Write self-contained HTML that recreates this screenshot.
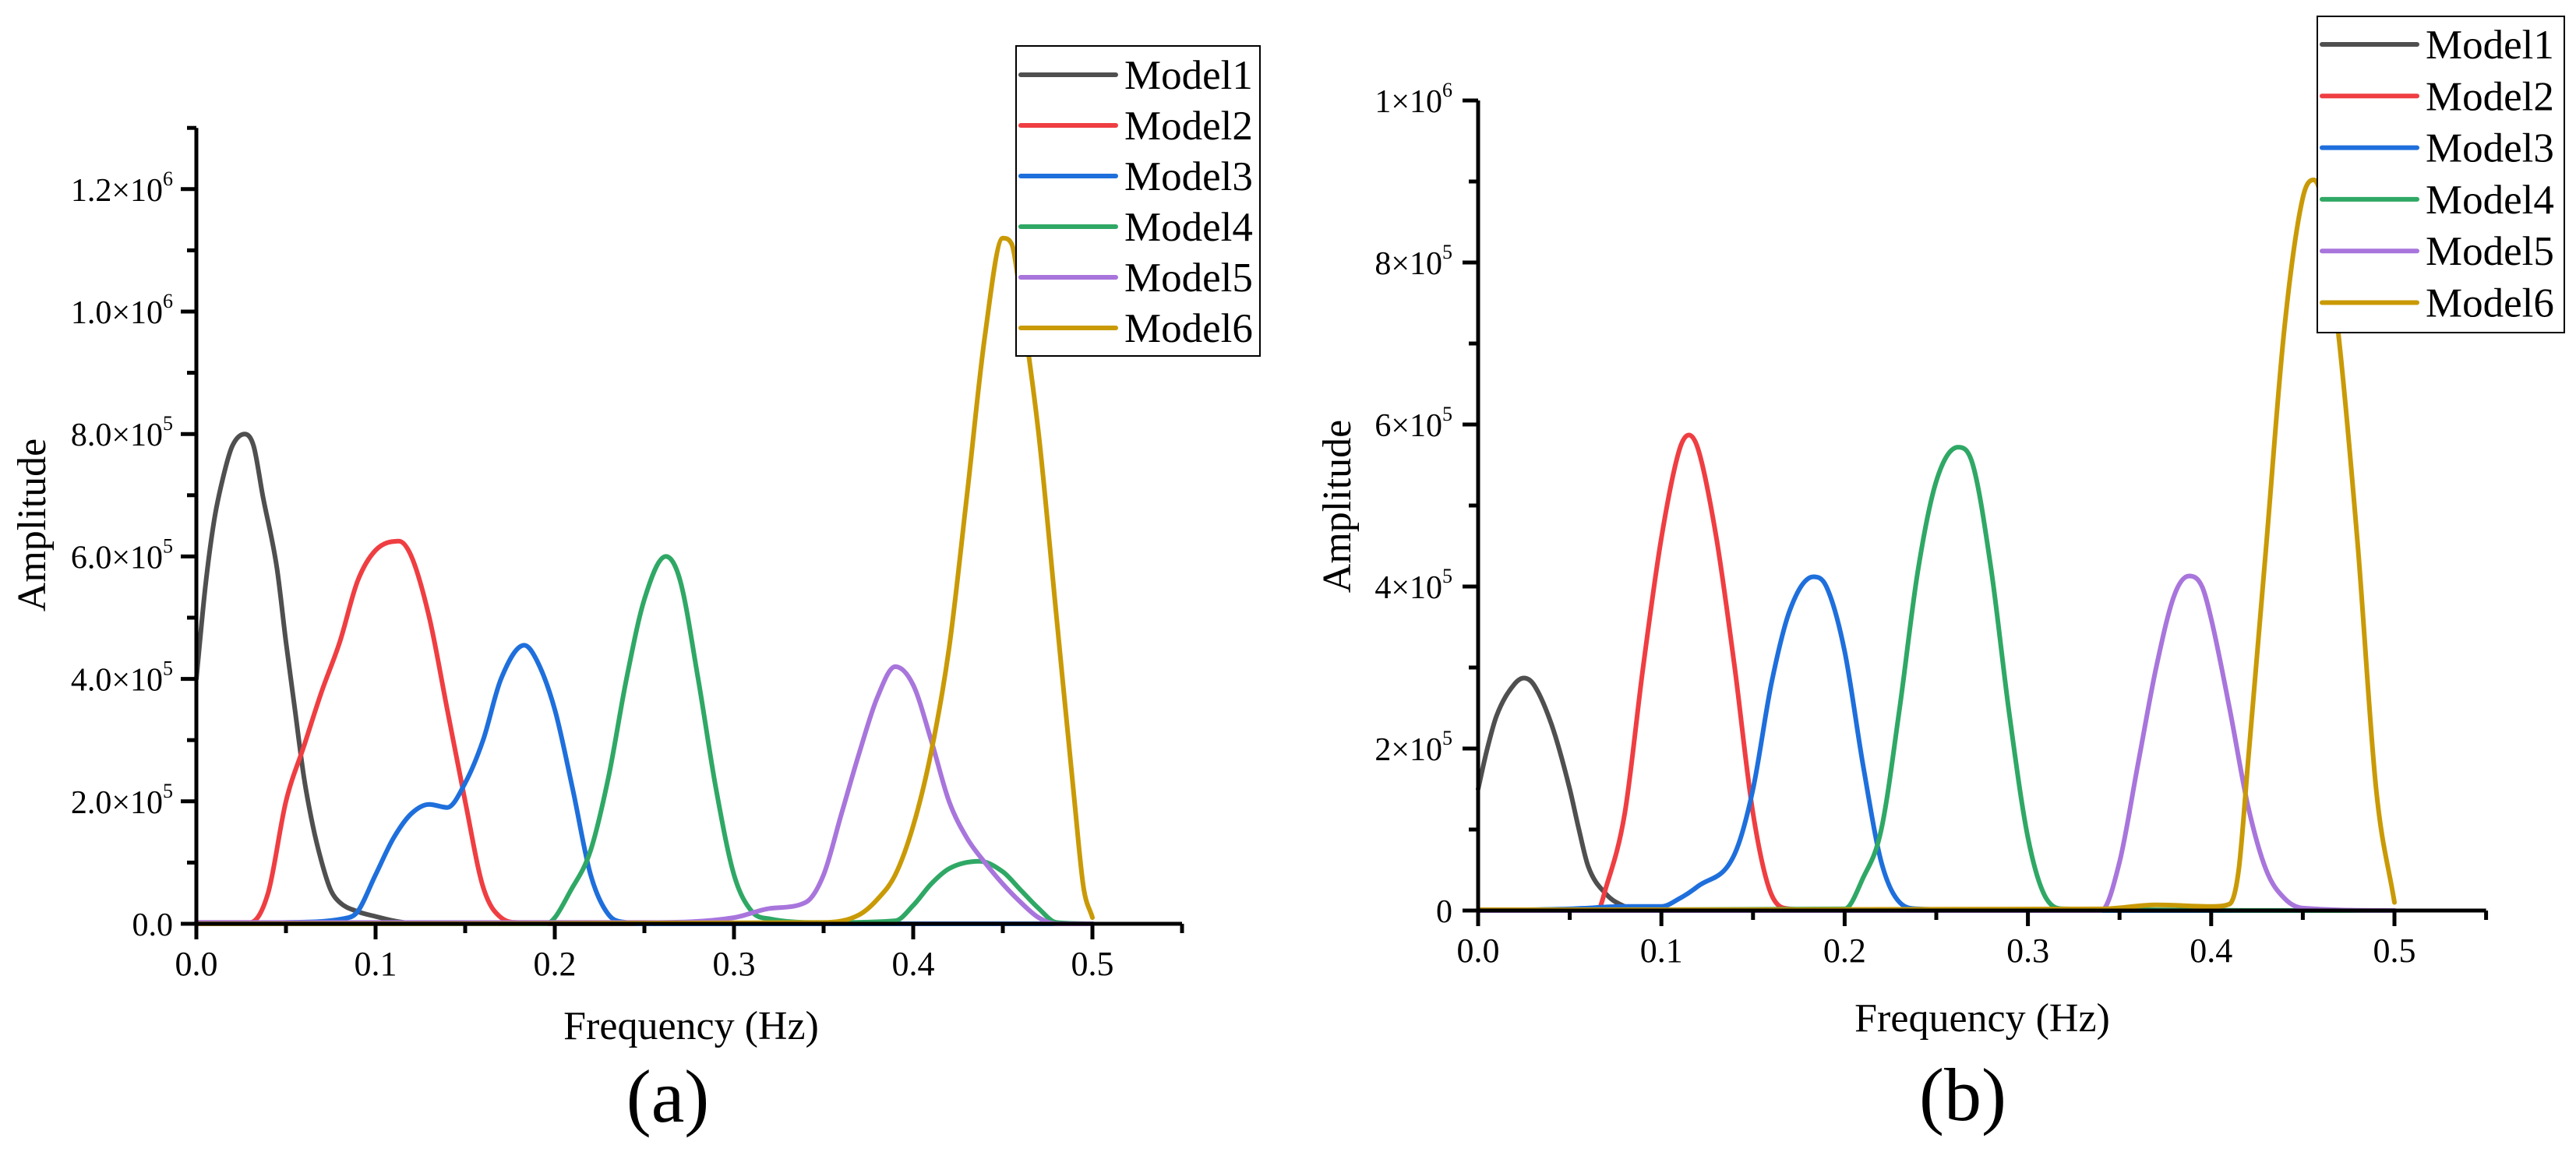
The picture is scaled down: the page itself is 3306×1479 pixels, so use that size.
<!DOCTYPE html>
<html><head><meta charset="utf-8"><style>
html,body{margin:0;padding:0;background:#fff;}
svg{display:block;}
svg text{font-family:"Liberation Serif","Times New Roman",serif;}
</style></head><body>
<svg id="chart" width="3306" height="1479" viewBox="0 0 3306 1479" xmlns="http://www.w3.org/2000/svg" font-family="Liberation Serif, serif"></svg>
<script>
const seriesNames = ["Model1","Model2","Model3","Model4","Model5","Model6"];
const seriesColors = ["#4f4f4f","#ef3e42","#1e6fdc","#2fa865","#a875dc","#c99a06"];
const xTicks = [0,0.1,0.2,0.3,0.4,0.5];
const xTickLabels = ["0.0","0.1","0.2","0.3","0.4","0.5"];
const aYTicks = [0,2,4,6,8,10,12];
const aYTickMain = ["0.0","2.0×10","4.0×10","6.0×10","8.0×10","1.0×10","1.2×10"];
const aYTickExp = ["","5","5","5","5","6","6"];
const bYTicks = [0,2,4,6,8,10];
const bYTickMain = ["0","2×10","4×10","6×10","8×10","1×10"];
const bYTickExp = ["","5","5","5","5","6"];
// panel (a) data, amplitude in units of 1e5
const a1x=[0,0.005,0.01,0.015,0.02,0.027,0.032,0.037,0.045,0.05,0.055,0.06,0.065,0.07,0.075,0.08,0.09,0.1,0.11,0.12,0.15,0.5];
const a1y=[4.0,5.5,6.6,7.3,7.8,8.0,7.8,7.0,5.8,4.6,3.5,2.4,1.6,1.0,0.55,0.35,0.2,0.12,0.05,0.01,0,0];
const a2x=[0,0.03,0.04,0.05,0.06,0.07,0.08,0.09,0.1,0.113,0.12,0.13,0.14,0.15,0.16,0.17,0.18,0.25,0.3,0.5];
const a2y=[0.02,0.02,0.5,2.0,2.9,3.8,4.6,5.6,6.1,6.25,6.0,5.0,3.5,2.0,0.6,0.1,0.02,0.02,0,0];
const a3x=[0,0.05,0.085,0.09,0.1,0.11,0.12,0.13,0.14,0.15,0.16,0.17,0.183,0.19,0.2,0.21,0.22,0.23,0.24,0.25,0.5];
const a3y=[0,0.02,0.1,0.2,0.8,1.4,1.8,1.95,1.9,2.3,3.0,4.0,4.55,4.3,3.5,2.2,0.8,0.15,0.02,0,0];
const a4x=[0,0.195,0.21,0.22,0.23,0.24,0.25,0.262,0.27,0.28,0.29,0.3,0.31,0.32,0.35,0.39,0.4,0.41,0.42,0.437,0.45,0.46,0.47,0.48,0.5];
const a4y=[0,0,0.6,1.2,2.4,4.0,5.3,6.0,5.6,4.0,2.2,0.8,0.2,0.08,0.02,0.05,0.3,0.65,0.9,1.02,0.85,0.55,0.25,0.02,0];
const a5x=[0,0.25,0.3,0.32,0.34,0.35,0.36,0.37,0.38,0.39,0.4,0.41,0.42,0.43,0.44,0.45,0.46,0.47,0.48,0.5];
const a5y=[0.02,0.02,0.1,0.25,0.35,0.8,1.8,2.8,3.7,4.2,3.9,3.0,2.0,1.4,1.0,0.65,0.35,0.1,0,0];
const a6x=[0,0.35,0.37,0.38,0.39,0.4,0.41,0.42,0.43,0.44,0.45,0.455,0.46,0.47,0.48,0.49,0.495,0.5];
const a6y=[0,0.02,0.15,0.4,0.8,1.6,2.8,4.5,7.0,9.6,11.2,11.1,10.2,8.0,5.0,2.0,0.6,0.1];
// panel (b) data
const b1x=[0,0.005,0.01,0.02,0.025,0.03,0.04,0.05,0.055,0.06,0.07,0.08,0.09,0.5];
const b1y=[1.5,2.0,2.4,2.8,2.87,2.8,2.3,1.5,1.0,0.55,0.2,0.05,0,0];
const b2x=[0,0.065,0.07,0.08,0.09,0.1,0.11,0.115,0.12,0.13,0.14,0.15,0.16,0.17,0.2,0.5];
const b2y=[0,0,0.3,1.2,3.0,4.6,5.7,5.87,5.7,4.6,3.0,1.2,0.2,0.02,0,0];
const b3x=[0,0.05,0.08,0.1,0.11,0.12,0.14,0.15,0.16,0.17,0.183,0.19,0.2,0.21,0.22,0.23,0.24,0.3,0.5];
const b3y=[0,0.02,0.05,0.05,0.15,0.3,0.7,1.5,2.8,3.7,4.12,4.0,3.2,1.8,0.6,0.1,0.02,0,0];
const b4x=[0,0.2,0.21,0.22,0.23,0.24,0.25,0.262,0.27,0.28,0.29,0.3,0.31,0.32,0.5];
const b4y=[0,0.02,0.4,1.0,2.5,4.2,5.3,5.72,5.5,4.2,2.4,0.9,0.15,0.02,0];
const b5x=[0,0.34,0.35,0.36,0.37,0.38,0.388,0.395,0.4,0.41,0.42,0.43,0.44,0.45,0.5];
const b5y=[0,0,0.6,1.8,3.0,3.9,4.13,4.0,3.6,2.5,1.3,0.5,0.15,0.03,0];
const b6x=[0,0.34,0.37,0.4,0.41,0.415,0.42,0.43,0.44,0.45,0.456,0.46,0.47,0.48,0.49,0.5];
const b6y=[0.01,0.02,0.07,0.05,0.08,0.5,1.8,4.5,7.2,8.8,9.02,8.8,7.0,4.5,1.5,0.1];

const NS="http://www.w3.org/2000/svg";
const svg=document.getElementById('chart');
const FONT='Liberation Serif, serif';
function mk(tag,attrs,parent){const e=document.createElementNS(NS,tag);for(const k in attrs)e.setAttribute(k,attrs[k]);(parent||svg).appendChild(e);return e;}

// monotone cubic path through pixel points
function monoPath(P){
  const n=P.length;if(n<2)return '';
  const d=[],m=new Array(n);
  for(let i=0;i<n-1;i++)d.push((P[i+1][1]-P[i][1])/(P[i+1][0]-P[i][0]));
  m[0]=d[0];m[n-1]=d[n-2];
  for(let i=1;i<n-1;i++){m[i]=(d[i-1]*d[i]<=0)?0:(d[i-1]+d[i])/2;}
  for(let i=0;i<n-1;i++){
    if(d[i]===0){m[i]=0;m[i+1]=0;continue;}
    const a=m[i]/d[i],b=m[i+1]/d[i],s=a*a+b*b;
    if(s>9){const t=3/Math.sqrt(s);m[i]=t*a*d[i];m[i+1]=t*b*d[i];}
  }
  let s='M'+P[0][0].toFixed(1)+' '+P[0][1].toFixed(1);
  for(let i=0;i<n-1;i++){
    const h=(P[i+1][0]-P[i][0])/3;
    s+='C'+(P[i][0]+h).toFixed(1)+' '+(P[i][1]+m[i]*h).toFixed(1)+' '+(P[i+1][0]-h).toFixed(1)+' '+(P[i+1][1]-m[i+1]*h).toFixed(1)+' '+P[i+1][0].toFixed(1)+' '+P[i+1][1].toFixed(1);
  }
  return s;
}

function panel(cfg){
  const g=mk('g',{});
  
  
  const sx=v=>cfg.x0+v*cfg.xs;
  const sy=v=>cfg.y0-v*cfg.ys;
  cfg.series.forEach((s,i)=>{
    const P=s[0].map((xv,j)=>[sx(xv),sy(s[1][j])]);
    const p=mk('path',{d:monoPath(P),fill:'none',stroke:seriesColors[i],'stroke-width':6,'stroke-linejoin':'round','stroke-linecap':'round'},g);
    
    
  });
  const ax=mk('path',{d:`M${cfg.x0} ${sy(cfg.ymax)}L${cfg.x0} ${cfg.y0}L${sx(0.55)} ${cfg.y0}`,fill:'none',stroke:'#000','stroke-width':5},g);
  
  
  for(let k=0;k<=11;k++){
    const xv=k*0.05,len=k%2?12:20;
    mk('line',{x1:sx(xv),x2:sx(xv),y1:cfg.y0,y2:cfg.y0+len,stroke:'#000','stroke-width':5},g);
  }
  xTicks.forEach((xv,i)=>{
    const t=mk('text',{x:sx(xv),y:cfg.y0+66,'font-size':44,'text-anchor':'middle','font-family':FONT},g);
    t.textContent=xTickLabels[i];
    
    
  });
  for(let v=0;v<=cfg.ymax;v+=1){
    const len=v%2?12:20;
    mk('line',{x1:cfg.x0-len,x2:cfg.x0,y1:sy(v),y2:sy(v),stroke:'#000','stroke-width':5},g);
  }
  cfg.yt.forEach((v,i)=>{
    const t=mk('text',{x:cfg.labelRight,y:sy(v)+15,'font-size':42,'text-anchor':'end','font-family':FONT},g);
    
    
    const a=mk('tspan',{},t);a.textContent=cfg.ytm[i];
    if(cfg.yte[i]){const b=mk('tspan',{'font-size':26,dy:-20},t);b.textContent=cfg.yte[i];}
  });
  const xt=mk('text',{x:cfg.xtX,y:cfg.xtY,'font-size':52,'text-anchor':'middle','font-family':FONT},g);
  xt.textContent='Frequency (Hz)';
  
  
  const yt=mk('text',{x:0,y:0,'font-size':52,'text-anchor':'middle','font-family':FONT,transform:`translate(${cfg.ytX},${cfg.ytY}) rotate(-90)`},g);
  yt.textContent='Amplitude';
  
  
  const cap=mk('text',{x:cfg.capX,y:cfg.capY,'font-size':96,'text-anchor':'middle','font-family':FONT},g);
  cap.textContent=cfg.cap;
  
  
  const lg=mk('g',{},g);
  
  
  mk('rect',{x:cfg.lgL,y:cfg.lgT,width:cfg.lgR-cfg.lgL,height:cfg.lgB-cfg.lgT,fill:'#fff',stroke:'#000','stroke-width':2},lg);
  seriesNames.forEach((n,i)=>{
    const yy=cfg.lgY0+i*cfg.lgDy;
    const e=mk('g',{},lg);
    
    
    mk('line',{x1:cfg.lgL+6,x2:cfg.lgL+128,y1:yy,y2:yy,stroke:seriesColors[i],'stroke-width':6,'stroke-linecap':'round'},e);
    const t=mk('text',{x:cfg.lgL+139,y:yy+18,'font-size':53,'font-family':FONT},e);
    t.textContent=n;
  });
}
panel({name:'panel-a',x0:252,y0:1186,xs:2300,ys:78.6,ymax:13,yt:aYTicks,ytm:aYTickMain,yte:aYTickExp,labelRight:222,
  series:[[a1x,a1y],[a2x,a2y],[a3x,a3y],[a4x,a4y],[a5x,a5y],[a6x,a6y]],
  xtX:887,xtY:1334,ytX:58,ytY:674,capX:857,capY:1440,cap:'(a)',
  lgL:1304,lgT:59,lgR:1617,lgB:457,lgY0:96,lgDy:65});
panel({name:'panel-b',x0:1897,y0:1169,xs:2352,ys:104,ymax:10,yt:bYTicks,ytm:bYTickMain,yte:bYTickExp,labelRight:1864,
  series:[[b1x,b1y],[b2x,b2y],[b3x,b3y],[b4x,b4y],[b5x,b5y],[b6x,b6y]],
  xtX:2544,xtY:1324,ytX:1733,ytY:650,capX:2519,capY:1438,cap:'(b)',
  lgL:2974,lgT:21,lgR:3291,lgB:427,lgY0:57,lgDy:66.3});
</script>
</body></html>
